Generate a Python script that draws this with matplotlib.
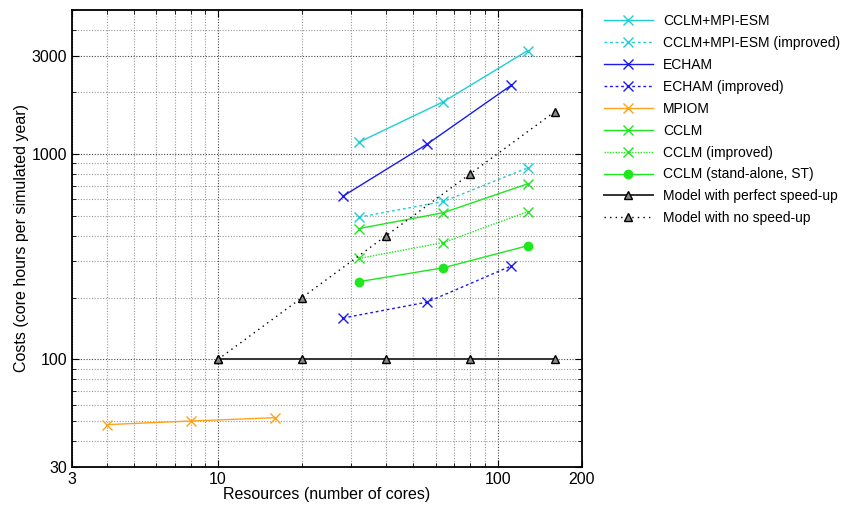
import matplotlib
matplotlib.use("Agg")
import matplotlib.pyplot as plt
from matplotlib.ticker import FixedLocator, LogLocator, NullFormatter

plt.rcParams['font.family'] = ['Liberation Sans', 'DejaVu Sans']

# cores and costs (core hours per simulated year)
cores_coupled = [32, 64, 128]
cost_cclm_mpi = [1140, 1790, 3170]
cost_cclm_mpi_impr = [492, 586, 853]

cores_echam = [28, 56, 112]
cost_echam = [622, 1114, 2155]
cost_echam_impr = [159, 190, 285]

cores_mpiom = [4, 8, 16]
cost_mpiom = [48.2, 50.2, 52.1]

cost_cclm = [433, 517, 714]
cost_cclm_impr = [310, 370, 523]
cost_cclm_st = [239, 279, 357]

cores_ref = [10, 20, 40, 80, 160]
cost_perfect = [100, 100, 100, 100, 100]
cost_nospeedup = [100, 200, 400, 800, 1600]

fig = plt.figure(figsize=(8.42, 5.07), dpi=100)
ax = fig.add_axes([0.0852, 0.0789, 0.6057, 0.9014])

cyan = '#1ccfd6'
blue = '#1a1aee'
orange = '#ffa31a'
green = '#1de81d'

ax.plot(cores_coupled, cost_cclm_mpi, color=cyan, lw=1.0, marker='x', ms=7,
        label='CCLM+MPI-ESM')
ax.plot(cores_coupled, cost_cclm_mpi_impr, color=cyan, lw=1.0, ls=(0, (2, 2)),
        marker='x', ms=7, label='CCLM+MPI-ESM (improved)')
ax.plot(cores_echam, cost_echam, color=blue, lw=1.0, marker='x', ms=7,
        label='ECHAM')
ax.plot(cores_echam, cost_echam_impr, color=blue, lw=1.0, ls=(0, (2, 2)),
        marker='x', ms=7, label='ECHAM (improved)')
ax.plot(cores_mpiom, cost_mpiom, color=orange, lw=1.0, marker='x', ms=7,
        label='MPIOM')
ax.plot(cores_coupled, cost_cclm, color=green, lw=1.0, marker='x', ms=7,
        label='CCLM')
ax.plot(cores_coupled, cost_cclm_impr, color=green, lw=1.0, ls=(0, (1, 1)),
        marker='x', ms=7, label='CCLM (improved)')
ax.plot(cores_coupled, cost_cclm_st, color=green, lw=1.0, marker='o', ms=6,
        label='CCLM (stand-alone, ST)')
ax.plot(cores_ref, cost_perfect, color='#333333', lw=1.4, marker='^', ms=5.5,
        mfc='#888888', mec='black', label='Model with perfect speed-up')
ax.plot(cores_ref, cost_nospeedup, color='black', lw=1.0, ls=(0, (1, 3)),
        marker='^', ms=5.5, mfc='#888888', mec='black',
        label='Model with no speed-up')

ax.set_xscale('log')
ax.set_yscale('log')
ax.set_xlim(3, 200)
ax.set_ylim(30, 5000)

ax.xaxis.set_major_locator(FixedLocator([3, 10, 100, 200]))
ax.set_xticklabels(['3', '10', '100', '200'])
ax.xaxis.set_minor_locator(LogLocator(base=10, subs=range(2, 10)))
ax.xaxis.set_minor_formatter(NullFormatter())
ax.yaxis.set_major_locator(FixedLocator([30, 100, 1000, 3000]))
ax.set_yticklabels(['30', '100', '1000', '3000'])
ax.yaxis.set_minor_locator(LogLocator(base=10, subs=range(2, 10)))
ax.yaxis.set_minor_formatter(NullFormatter())

ax.tick_params(which='both', direction='in', top=True, right=True,
               labelsize=11.5)
ax.tick_params(which='major', length=5)
ax.tick_params(which='minor', length=3)

ax.grid(True, which='major', color='#444444', ls=(0, (1, 1.5)), lw=0.8)
ax.grid(True, which='minor', color='#999999', ls=(0, (1, 1.5)), lw=0.8)

for s in ax.spines.values():
    s.set_linewidth(1.3)

ax.set_xlabel('Resources (number of cores)', fontsize=11.5, labelpad=0)
ax.set_ylabel('Costs (core hours per simulated year)', fontsize=11.5,
              labelpad=2)

fig.legend(loc='upper left', bbox_to_anchor=(0.7025, 0.997), frameon=False,
           fontsize=10, handlelength=3.5, labelspacing=0.57, handletextpad=0.75)

fig.savefig('out.png', dpi=100)
